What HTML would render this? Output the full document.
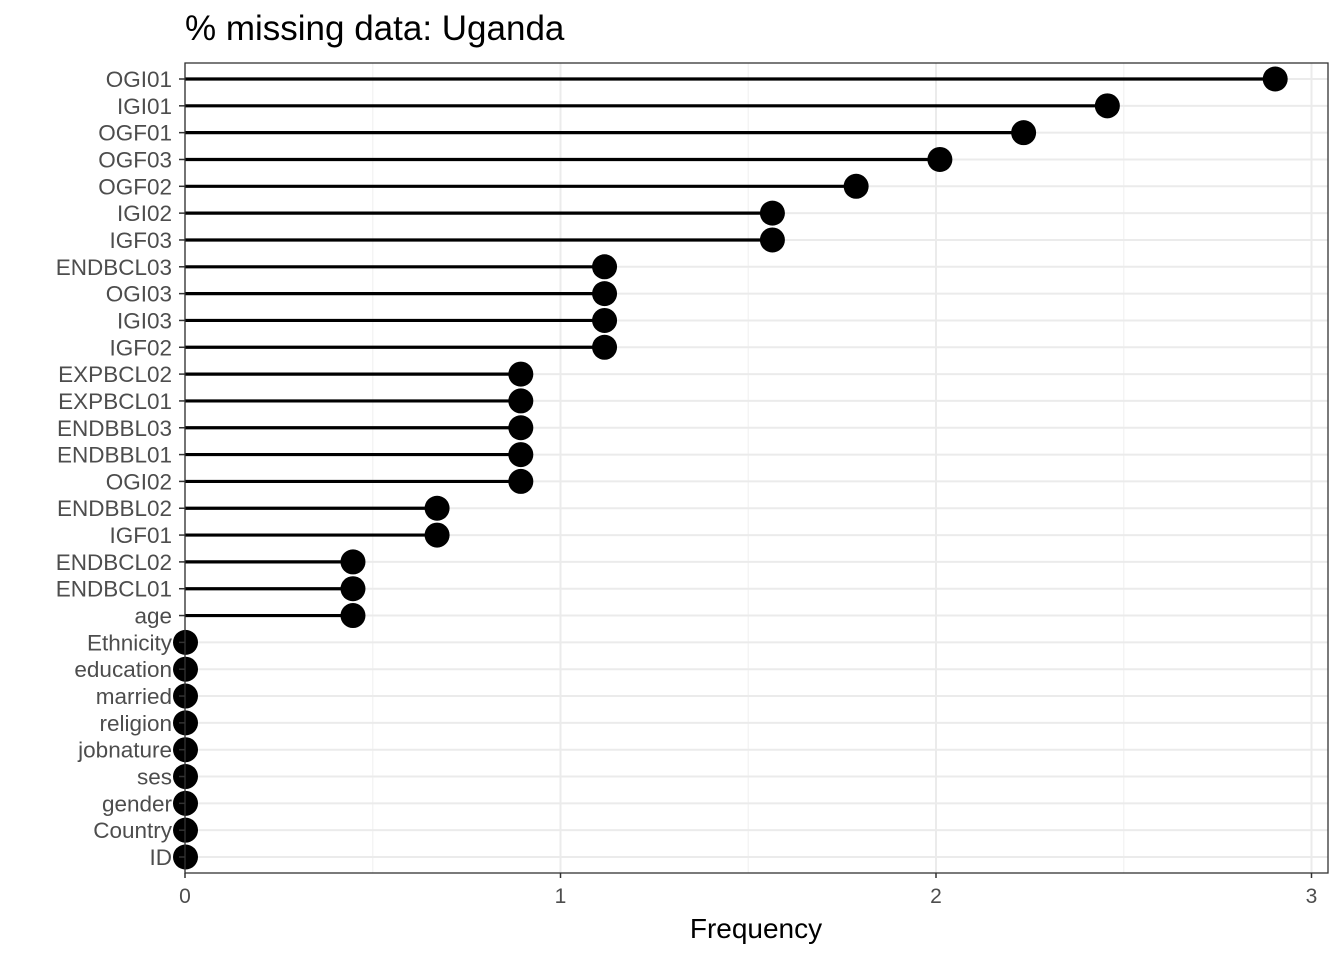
<!DOCTYPE html>
<html><head><meta charset="utf-8"><style>
body{margin:0;background:#fff;font-family:"Liberation Sans",sans-serif}
</style></head><body>
<svg id="c" width="1344" height="960" xmlns="http://www.w3.org/2000/svg">
<text x="185" y="40" font-size="35" fill="#000">% missing data: Uganda</text>
<text x="756" y="938" font-size="28" text-anchor="middle" fill="#000">Frequency</text>
<g id="g"></g>
</svg>
<script>
const categories=["OGI01","IGI01","OGF01","OGF03","OGF02","IGI02","IGF03","ENDBCL03","OGI03","IGI03","IGF02","EXPBCL02","EXPBCL01","ENDBBL03","ENDBBL01","OGI02","ENDBBL02","IGF01","ENDBCL02","ENDBCL01","age","Ethnicity","education","married","religion","jobnature","ses","gender","Country","ID"];
const values=[2.902,2.455,2.232,2.009,1.786,1.563,1.563,1.116,1.116,1.116,1.116,0.893,0.893,0.893,0.893,0.893,0.670,0.670,0.446,0.446,0.446,0,0,0,0,0,0,0,0,0];
const xTicks=[0,1,2,3];
const xMinor=[0.5,1.5,2.5];
const L=185,R=1328,T=63,B=873;
const xs=v=>L+v*375.5;
const ys=i=>79+i*(857-79)/(categories.length-1);
const g=document.getElementById('g');
const NS="http://www.w3.org/2000/svg";
function mk(t,a){const e=document.createElementNS(NS,t);for(const k in a)e.setAttribute(k,a[k]);g.appendChild(e);return e;}
xMinor.forEach(v=>{const e=mk('line',{x1:xs(v),x2:xs(v),y1:T,y2:B,stroke:'#f3f3f3','stroke-width':1.2});

});
xTicks.forEach(v=>{const e=mk('line',{x1:xs(v),x2:xs(v),y1:T,y2:B,stroke:'#ebebeb','stroke-width':2});

});
categories.forEach((c,i)=>{const e=mk('line',{x1:L,x2:R,y1:ys(i),y2:ys(i),stroke:'#ebebeb','stroke-width':2});

});
categories.forEach((c,i)=>{
const y=ys(i);
const s=mk('line',{x1:xs(0),x2:xs(values[i]),y1:y,y2:y,stroke:'#000','stroke-width':3.2});


const p=mk('circle',{cx:xs(values[i])+0.5,cy:y,r:12.5,fill:'#000'});


const t=mk('line',{x1:L-6,x2:L,y1:y,y2:y,stroke:'#333','stroke-width':1.5});


const l=mk('text',{x:172,y:y+8,'font-size':22.5,'text-anchor':'end',fill:'#4d4d4d'});
l.textContent=c;


});
xTicks.forEach(v=>{
const t=mk('line',{x1:xs(v),x2:xs(v),y1:B,y2:B+5,stroke:'#333','stroke-width':1.5});


const l=mk('text',{x:xs(v),y:903,'font-size':21,'text-anchor':'middle',fill:'#4d4d4d'});
l.textContent=v;


});
const b=mk('rect',{x:L,y:T,width:R-L,height:B-T,fill:'none',stroke:'#333','stroke-width':1.3});


</script>
</body></html>
